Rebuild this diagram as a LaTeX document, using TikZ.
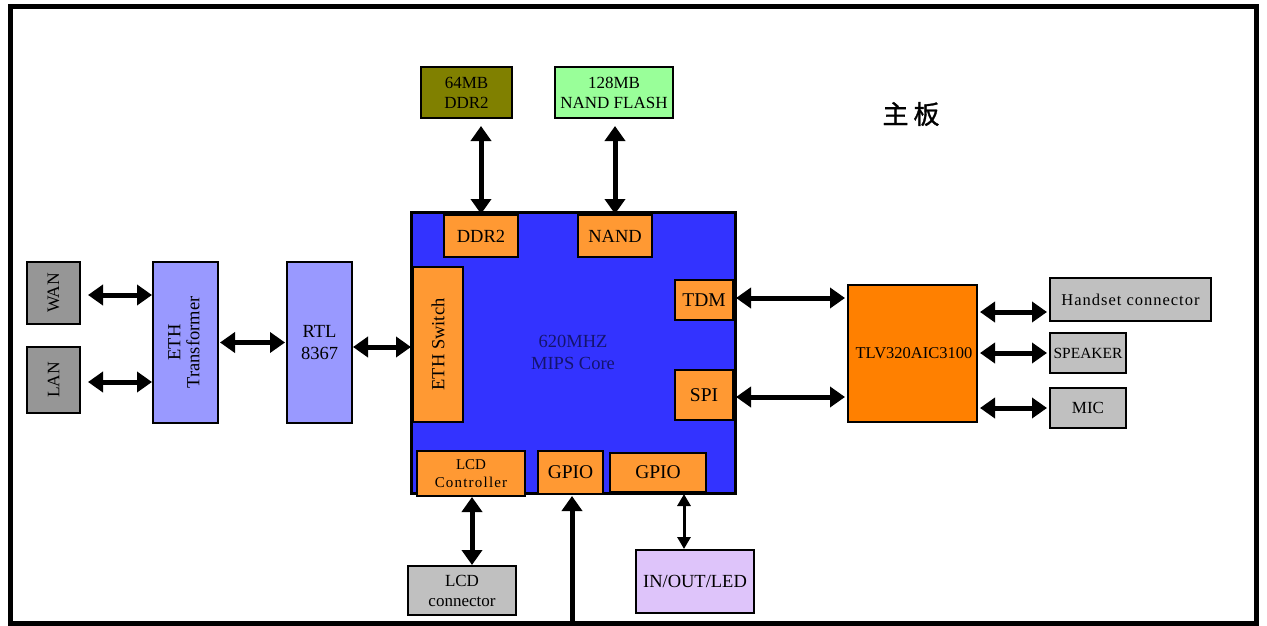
\documentclass[tikz,border=0pt]{standalone}
\usepackage{fontspec}
\usepackage{graphicx}
\setmainfont{Liberation Serif}
\newfontfamily\cjk{Noto Sans CJK SC}
\usetikzlibrary{arrows.meta}
\definecolor{olivebox}{RGB}{128,128,0}
\definecolor{greenbox}{RGB}{153,255,153}
\definecolor{cpublue}{RGB}{51,51,255}
\definecolor{portorange}{RGB}{255,153,51}
\definecolor{codecorange}{RGB}{255,128,0}
\definecolor{darkgray}{RGB}{150,150,150}
\definecolor{lavender}{RGB}{153,153,255}
\definecolor{lightgray}{RGB}{192,192,192}
\definecolor{lilac}{RGB}{222,196,250}
\definecolor{navytext}{RGB}{20,20,110}
\newcommand{\fs}[1]{\fontsize{#1}{\fpeval{#1*1.18}}\selectfont}
\begin{document}
\begin{tikzpicture}[x=1pt,y=-1pt,
  box/.style={draw=black, line width=2.5pt, inner sep=0pt, outer sep=0pt, align=center, text=black},
  port/.style={box, fill=portorange},
  arr/.style={line width=5pt, {Triangle[length=15pt,width=20pt]}-{Triangle[length=15pt,width=20pt]}},
  uparr/.style={line width=5pt, -{Triangle[length=15pt,width=20pt]}},
  thinarr/.style={line width=3pt, {Triangle[length=12pt,width=13pt]}-{Triangle[length=12pt,width=13pt]}}
]
\useasboundingbox (0,0) rectangle (1267,626);
\fill[white] (0,0) rectangle (1267,626);
% outer frame
\draw[line width=5pt] (10.5,7) rectangle (1256.5,623);

% title
\node (title) at (911,114) {\cjk\addfontfeature{FakeBold=1.2}\fs{26}主\hspace{5pt}板};

% memories
\node[box, fill=olivebox, minimum width=91pt, minimum height=51pt, font=\fs{17}] (ddrm) at (466.5,92.5) {64MB\\DDR2};
\node[box, fill=greenbox, minimum width=118pt, minimum height=51pt, font=\fs{17}] (nandm) at (614,92.5) {128MB\\NAND FLASH};

% main CPU
\node[box, fill=cpublue, line width=3pt, minimum width=324pt, minimum height=281pt, font=\fs{18.5}, text=navytext] (cpu) at (573,352.5) {620MHZ\\MIPS Core};

\node[port, minimum width=74pt, minimum height=42pt, font=\fs{18.5}] (ddrin) at (481,236) {DDR2};
\node[port, minimum width=74pt, minimum height=42pt, font=\fs{18.5}] (nandin) at (615,236) {NAND};
\node[port, minimum width=50pt, minimum height=155pt, font=\fs{18.5}] (ethsw) at (438,344.5) {\rotatebox{90}{ETH Switch}};
\node[port, minimum width=58pt, minimum height=40pt, font=\fs{19.5}] (tdm) at (704,300) {TDM};
\node[port, minimum width=58pt, minimum height=50pt, font=\fs{19.5}] (spi) at (704,395) {SPI};
\node[port, minimum width=108pt, minimum height=45pt, font=\fs{15}] (lcdc) at (471,473.5) {LCD\\{\addfontfeature{LetterSpace=8}Controller}};
\node[port, minimum width=65pt, minimum height=43pt, font=\fs{19.5}] (gpioa) at (570.5,472.5) {GPIO};
\node[port, minimum width=96pt, minimum height=39pt, font=\fs{19.5}] (gpiob) at (658,472.5) {GPIO};

% left side
\node[box, fill=darkgray, minimum width=53pt, minimum height=62pt, font=\fs{17.5}] (wan) at (53.5,293) {\rotatebox{90}{WAN}};
\node[box, fill=darkgray, minimum width=53pt, minimum height=66pt, font=\fs{17.5}] (lan) at (53.5,380) {\rotatebox{90}{LAN}};
\node[box, fill=lavender, minimum width=65pt, minimum height=161pt, font=\fs{18.5}] (etht) at (185.5,342.5) {\rotatebox{90}{\begin{tabular}{@{}c@{}}ETH\\[-3pt]Transformer\end{tabular}}};
\node[box, fill=lavender, minimum width=65pt, minimum height=161pt, font=\fs{18.5}] (rtl) at (319.5,342.5) {RTL\\8367};

% right side
\node[box, fill=codecorange, minimum width=129pt, minimum height=137pt, font=\fs{16.5}] (codec) at (912.5,353.5) {\hspace{3pt}TLV320AIC3100};
\node[box, fill=lightgray, minimum width=161pt, minimum height=43pt, font=\fs{16.5}] (hs) at (1130.5,299.5) {{\addfontfeature{LetterSpace=6}Handset connector}};
\node[box, fill=lightgray, minimum width=76pt, minimum height=40pt, font=\fs{15.5}] (spk) at (1088,353) {SPEAKER};
\node[box, fill=lightgray, minimum width=76pt, minimum height=40pt, font=\fs{17}] (mic) at (1088,408) {MIC};

% bottom
\node[box, fill=lightgray, minimum width=108pt, minimum height=49pt, font=\fs{17}] (lcdconn) at (462,590.5) {LCD\\connector};
\node[box, fill=lilac, minimum width=118pt, minimum height=63pt, font=\fs{18.5}] (io) at (695,581.5) {IN/OUT/LED};
\coordinate (gpioend) at (572,628);

% connectors
\draw[arr, shorten <=8pt, shorten >=1pt] (ddrin.north |- ddrm.south) -- (ddrin.north);
\draw[arr, shorten <=8pt, shorten >=1pt] (nandin.north |- nandm.south) -- (nandin.north);

\draw[arr, shorten <=8pt, shorten >=1pt] ([yshift=-2pt]wan.east) -- ([yshift=-2pt]wan.east -| etht.west);
\draw[arr, shorten <=8pt, shorten >=1pt] ([yshift=-2pt]lan.east) -- ([yshift=-2pt]lan.east -| etht.west);
\draw[arr, shorten <=2pt, shorten >=2pt] (etht.east) -- (rtl.west);
\draw[arr, shorten <=1pt, shorten >=0pt] ([yshift=-4.5pt]rtl.east) -- ([yshift=-4.5pt]rtl.east -| cpu.west);

\draw[arr, shorten <=3pt, shorten >=3pt] ([yshift=2pt]tdm.east) -- ([yshift=2pt]tdm.east -| codec.west);
\draw[arr, shorten <=3pt, shorten >=3pt] ([yshift=-2pt]spi.east) -- ([yshift=-2pt]spi.east -| codec.west);

\draw[arr, shorten <=3pt, shorten >=3pt] ([yshift=-12.5pt]codec.east |- hs.east) -- ([yshift=-12.5pt]hs.west);
\draw[arr, shorten <=3pt, shorten >=3pt] (codec.east |- spk.west) -- (spk.west);
\draw[arr, shorten <=3pt, shorten >=3pt] (codec.east |- mic.west) -- (mic.west);

\draw[arr, shorten <=1pt, shorten >=1pt] ([xshift=1pt]lcdc.south) -- ([xshift=1pt]lcdc.south |- lcdconn.north);
\draw[uparr, shorten >=2pt] (gpioend) -- (gpioend |- gpioa.south);
\draw[thinarr, shorten <=2pt, shorten >=1pt] ([xshift=26pt]gpiob.south) -- ([xshift=26pt]gpiob.south |- io.north);
\end{tikzpicture}
\end{document}
